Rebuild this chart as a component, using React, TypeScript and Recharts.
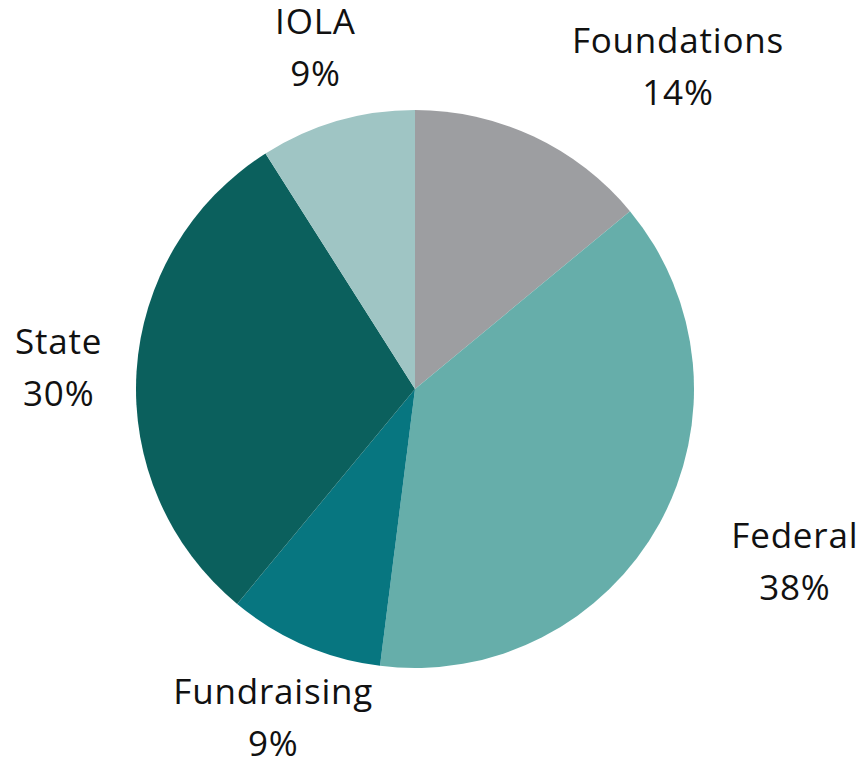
import React from 'react';
import { PieChart, Pie, Cell } from 'recharts';

const sources = ['Foundations', 'Federal', 'Fundraising', 'State', 'IOLA'];
const shares = [14, 38, 9, 30, 9];
const colors = ['#9d9ea1', '#66aeaa', '#077680', '#0b605d', '#9fc5c4'];

// Excel left-aligns the labels on the right side; shift those boxes out
const labelShift: { [key: string]: number } = { Foundations: 111, Federal: 67 };

const data = sources.map((name, i) => ({ name, value: shares[i] }));

const RAD = Math.PI / 180;

const renderLabel = (props: any) => {
  const { cx, cy, midAngle, outerRadius, name, value } = props;
  const r = outerRadius + 78;
  const x = cx + r * Math.cos(-midAngle * RAD) + (labelShift[name] || 0);
  const y = cy + r * Math.sin(-midAngle * RAD);
  return (
    <text
      x={x}
      y={y}
      textAnchor="middle"
      fill="#111"
      fontSize={35}
      letterSpacing={0.8}
      fontFamily="'Open Sans', sans-serif"
    >
      <tspan x={x} y={y - 26} dominantBaseline="central">{name}</tspan>
      <tspan x={x} y={y + 26} dominantBaseline="central">{value}%</tspan>
    </text>
  );
};

export default function App() {
  return (
    <div style={{ width: 858, height: 753, background: '#fff' }}>
      <PieChart
        width={858}
        height={753}
        margin={{ top: 0, right: 0, bottom: 0, left: 0 }}
        style={{ overflow: 'visible' }}
      >
        <Pie
          data={data}
          dataKey="value"
          nameKey="name"
          cx={407}
          cy={381}
          outerRadius={279}
          startAngle={90}
          endAngle={-270}
          stroke="none"
          label={renderLabel}
          labelLine={false}
          isAnimationActive={false}
        >
          {data.map((d, i) => (
            <Cell key={d.name} fill={colors[i]} />
          ))}
        </Pie>
      </PieChart>
    </div>
  );
}
